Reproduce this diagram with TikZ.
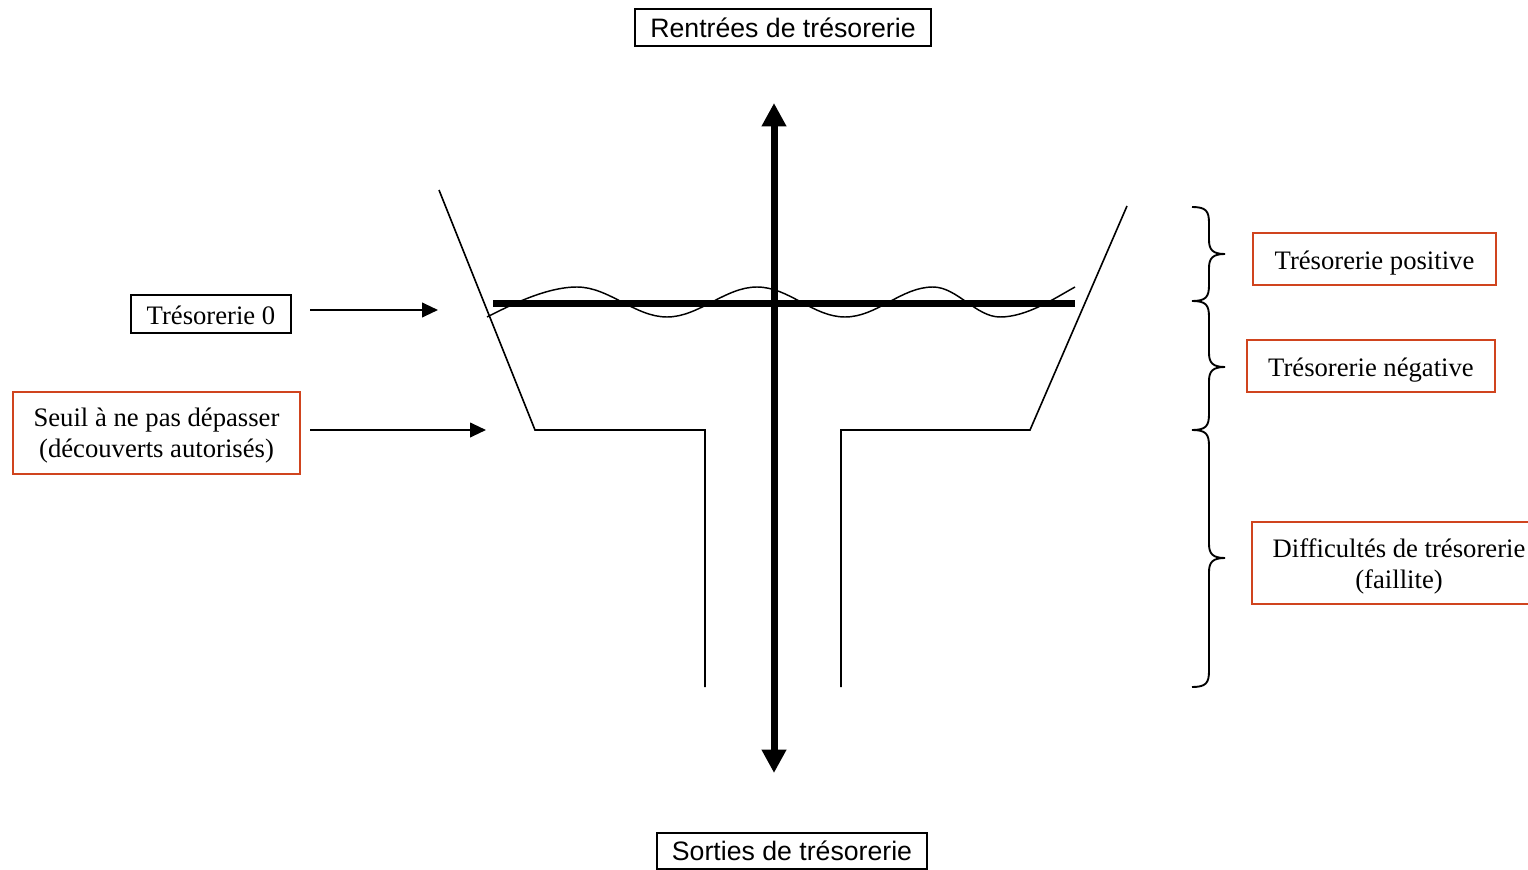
\documentclass[tikz,border=0pt]{standalone}
\usepackage{fontspec}
\setmainfont{Liberation Serif}
\newfontfamily\arialf{Liberation Sans}
\usetikzlibrary{arrows.meta}
\definecolor{boxred}{RGB}{208,68,30}
\newcommand\drawbrace[3]{%
  \draw[bracestyle] (1192,#1) .. controls (1206,#1) and (1209,{#1+4}) .. (1209,{#1+16})
    -- (1209,{#2-14}) .. controls (1209,{#2-4}) and (1213,#2) .. (1225,#2)
    .. controls (1213,#2) and (1209,{#2+4}) .. (1209,{#2+14})
    -- (1209,{#3-16}) .. controls (1209,{#3-4}) and (1206,#3) .. (1192,#3);}
\begin{document}
\begin{tikzpicture}[x=0.75pt,y=-0.75pt,
  serif/.style={inner sep=0pt,outer sep=0pt,font=\fontsize{20pt}{23.25pt}\selectfont,align=center},
  sans/.style={inner sep=0pt,outer sep=0pt,font=\arialf\fontsize{20pt}{23.25pt}\selectfont,text height=14.3pt,text depth=0pt},
  capT/.style={text height=15.2pt,text depth=0pt},
  blackbox/.style={draw=black,line width=1.5pt},
  redbox/.style={draw=boxred,line width=1.5pt},
  funnel/.style={line width=1.2pt,line join=miter},
  wave/.style={line width=1.1pt},
  smallarrow/.style={line width=1.5pt,-{Triangle[length=12pt,width=11pt]}},
  axisarrow/.style={line width=5.25pt,{Triangle[length=17.5pt,width=17.5pt]}-{Triangle[length=17.5pt,width=17.5pt]}},
  bracestyle/.style={line width=1.4pt}]
\clip (0,0) rectangle (1528,870);
\fill[white] (0,0) rectangle (1528,870);

% title boxes
\node[sans,blackbox,minimum width=222pt,minimum height=27.75pt] (rentrees) at (783,27.5) {Rentrées de trésorerie};
\node[sans,blackbox,minimum width=202.5pt,minimum height=27pt] (sorties) at (792,851) {Sorties de trésorerie};

% left boxes
\node[serif,capT,blackbox,minimum width=120pt,minimum height=28.5pt] (t0) at (211,314) {Trésorerie 0};
\node[serif,redbox,minimum width=215.25pt,minimum height=61.5pt] (seuil) at (156.5,433) {};
\node[serif,anchor=center] (seuiltxt) at (156.5,435.5) {Seuil à ne pas dépasser\\(découverts autorisés)};

% right boxes
\node[serif,capT,redbox,minimum width=182.25pt,minimum height=39pt] (pos) at (1374.5,259) {Trésorerie positive};
\node[serif,capT,redbox,minimum width=186pt,minimum height=39pt] (neg) at (1371,366) {Trésorerie négative};
\node[serif,redbox,minimum width=220.5pt,minimum height=61.5pt] (diff) at (1399,563) {};
\node[serif,anchor=center] (difftxt) at (1399,566) {Difficultés de trésorerie\\(faillite)};

% funnel
\draw[funnel] (439,190) -- (535,430) -- (705,430) -- (705,687);
\draw[funnel] (1127,206) -- (1030,430) -- (841,430) -- (841,687);

% wave and zero line
\draw[wave] (487,317) .. controls (507,307) and (545,287) .. (577,287)
  .. controls (609,287) and (635,317) .. (667,317)
  .. controls (699,317) and (725,287) .. (757,287)
  .. controls (789,287) and (813,317) .. (845,317)
  .. controls (877,317) and (901,287) .. (933,287)
  .. controls (957,287) and (976,317) .. (1000,317)
  .. controls (1027,317) and (1055,298) .. (1075,287);
\draw[line width=5.25pt] (493,303) -- (1075,303);

% vertical axis
\coordinate (axtop) at (774,103);
\coordinate (axbot) at (774,773);
\draw[axisarrow] (axbot) -- (axtop);

% pointer arrows
\coordinate (a0s) at (310,310);
\coordinate (a0e) at (438,310);
\coordinate (a1s) at (310,430);
\coordinate (a1e) at (486,430);
\draw[smallarrow] (a0s) -- (a0e);
\draw[smallarrow] (a1s) -- (a1e);

% braces
\drawbrace{207}{254}{301}
\drawbrace{301}{367}{430}
\drawbrace{430}{558}{687}
\end{tikzpicture}
\end{document}
